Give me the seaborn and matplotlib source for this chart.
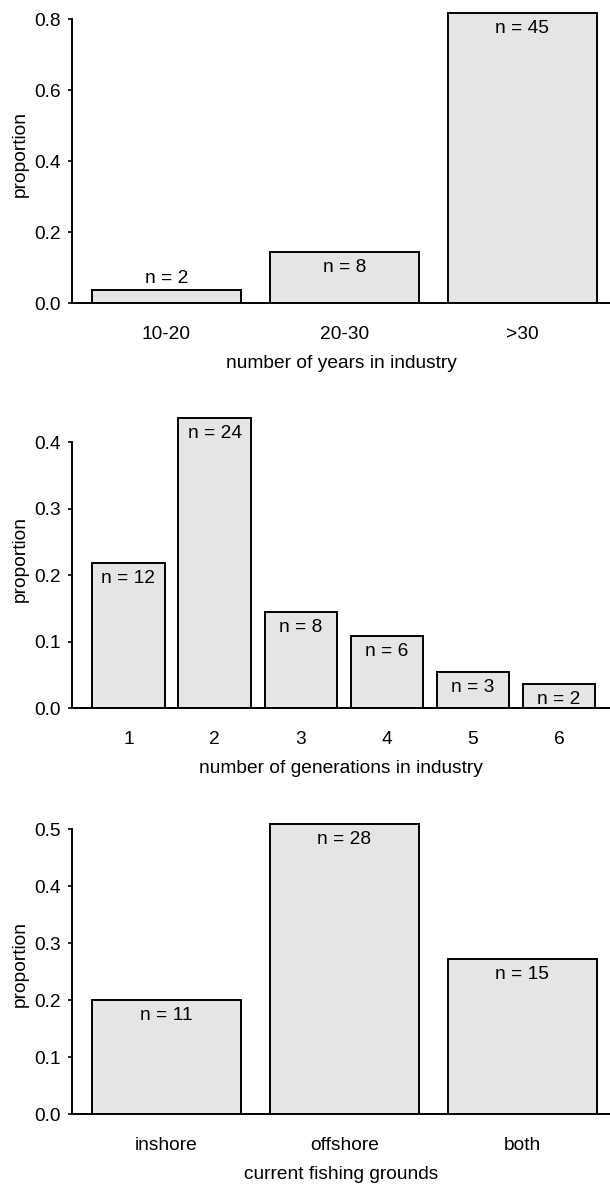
import matplotlib
matplotlib.use("Agg")
import matplotlib.pyplot as plt
import seaborn as sns
import pandas as pd

# Survey responses (counts); proportions are relative to all respondents
total_respondents = 55

years_categories = ["10-20", "20-30", ">30"]
years_counts = [2, 8, 45]

generation_categories = ["1", "2", "3", "4", "5", "6"]
generation_counts = [12, 24, 8, 6, 3, 2]

grounds_categories = ["inshore", "offshore", "both"]
grounds_counts = [11, 28, 15]

years_yticks = [0.0, 0.2, 0.4, 0.6, 0.8]
generation_yticks = [0.0, 0.1, 0.2, 0.3, 0.4]
grounds_yticks = [0.0, 0.1, 0.2, 0.3, 0.4, 0.5]

x_titles = ["number of years in industry",
            "number of generations in industry",
            "current fishing grounds"]

sns.set_theme(style="ticks")
plt.rcParams["font.family"] = ["Liberation Sans", "DejaVu Sans"]
plt.rcParams["text.color"] = "black"
plt.rcParams["axes.labelcolor"] = "black"

FS = 13.8
FILL = "#e5e5e5"
EDGE = "black"

fig = plt.figure(figsize=(6.1, 11.85), dpi=100)

panels = [
    # (categories, counts, yticks, title, axes rect, ylim top, xlim)
    (years_categories, years_counts, years_yticks, x_titles[0],
     [0.1180, 0.7440, 0.8820, 0.2519], 0.84, (-0.531, 2.492)),
    (generation_categories, generation_counts, generation_yticks, x_titles[1],
     [0.1180, 0.4023, 0.8820, 0.2525], 0.45, (-0.656, 5.592)),
    (grounds_categories, grounds_counts, grounds_yticks, x_titles[2],
     [0.1180, 0.0599, 0.8820, 0.2525], 0.525, (-0.531, 2.492)),
]

for cats, counts, yticks, title, rect, ytop, xlim in panels:
    ax = fig.add_axes(rect)
    df = pd.DataFrame({"category": cats,
                       "proportion": [c / total_respondents for c in counts]})
    sns.barplot(data=df, x="category", y="proportion", order=cats, ax=ax,
                color=FILL, saturation=1, edgecolor=EDGE, linewidth=1.4,
                width=0.84, errorbar=None)

    ax.set_xlim(*xlim)
    ax.set_ylim(0, ytop)
    ax.set_yticks(yticks)
    ax.set_yticklabels([f"{t:.1f}" for t in yticks])

    for spine in ("top", "right"):
        ax.spines[spine].set_visible(False)
    ax.spines["left"].set_bounds(0, yticks[-1])
    ax.spines["left"].set_linewidth(1.4)
    ax.spines["bottom"].set_linewidth(1.4)
    ax.spines["left"].set_color("black")
    ax.spines["bottom"].set_color("black")

    ax.tick_params(axis="x", length=0, pad=16.5, labelsize=FS, colors="black")
    ax.tick_params(axis="y", length=3, width=1.2, pad=5, labelsize=FS,
                   colors="black")
    ax.set_xlabel(title, fontsize=FS, labelpad=8.5)
    ax.set_ylabel("proportion", fontsize=FS, labelpad=4)

    # count labels: inside the top of the bar, or just above when the bar is too short
    for i, c in enumerate(counts):
        p = c / total_respondents
        if p / ytop < 0.06:
            ax.annotate(f"n = {c}", xy=(i, p), xytext=(0, 2.5),
                        textcoords="offset points", ha="center", va="bottom",
                        fontsize=FS, color="black")
        else:
            ax.annotate(f"n = {c}", xy=(i, p), xytext=(0, -5),
                        textcoords="offset points", ha="center", va="top",
                        fontsize=FS, color="black")

fig.savefig("out.png", dpi=100)
